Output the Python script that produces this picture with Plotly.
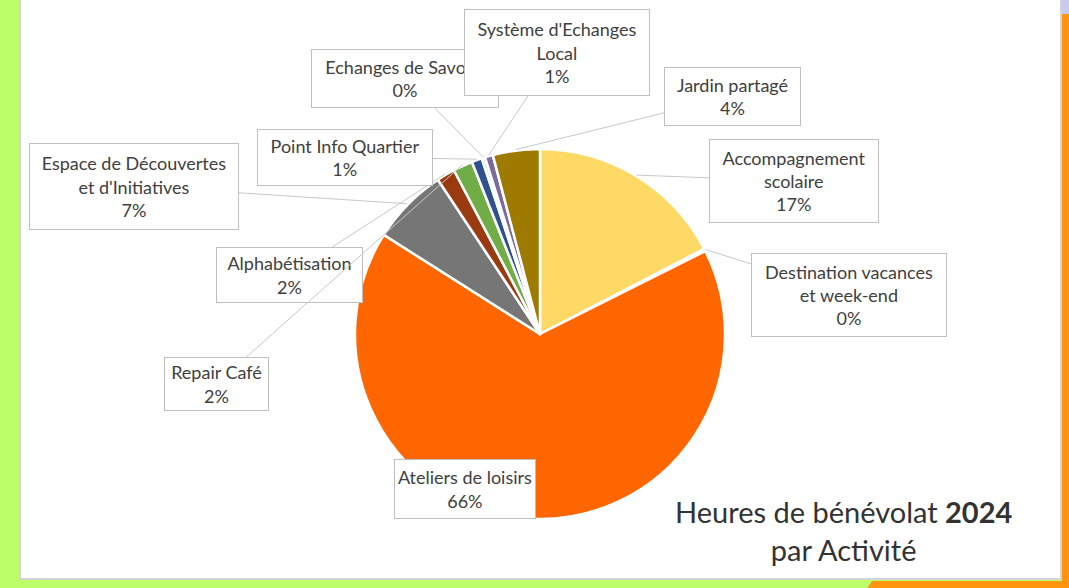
import plotly.graph_objects as go
import math

# ---- data ----
labels = [
    "Accompagnement<br>scolaire",
    "Destination vacances<br>et week-end",
    "Ateliers de loisirs",
    "Espace de Découvertes<br>et d'Initiatives",
    "Alphabétisation",
    "Repair Café",
    "Point Info Quartier",
    "Echanges de Savoirs",
    "Système d'Echanges<br>Local",
    "Jardin partagé",
]
values = [17.4, 0.2, 66.4, 6.7, 1.6, 1.7, 0.9, 0.3, 0.7, 4.1]
colors = ["#FFD966", "#A5A5A5", "#FF6600", "#767676", "#9A3A10",
          "#70AD47", "#31508F", "#DCE4F0", "#7A6C9C", "#9E7A00"]

# ---- layout constants (pixels) ----
W, H = 1069, 588
cx, cy, r = 540, 334, 185

# label box positions (centre x, centre y, width, height)
boxes = [
    (794, 181, 168, 82),
    (849, 295, 194, 82),
    (465, 489, 140, 58),
    (134, 186, 208, 85),
    (289, 275, 145, 54),
    (216, 384, 103, 52),
    (345, 157, 174, 55),
    (405, 78, 186, 57),
    (557, 52, 184, 85),
    (732, 96, 135, 57),
]

total = sum(values)
pcts = [round(v / total * 100) for v in values]

fig = go.Figure()
fig.add_trace(go.Pie(
    labels=[l.replace("<br>", " ") for l in labels],
    values=values,
    sort=False,
    direction="clockwise",
    rotation=0,
    marker=dict(colors=colors, line=dict(color="white", width=2.5)),
    textinfo="none",
    hoverinfo="label+percent",
    showlegend=False,
    domain=dict(x=[(cx - r) / W, (cx + r) / W], y=[1 - (cy + r) / H, 1 - (cy - r) / H]),
))

annotations = []
cum = 0.0
for i, (lab, v) in enumerate(zip(labels, values)):
    mid = (cum + v / 2) / total * 2 * math.pi
    cum += v
    tx = cx + (r + 1) * math.sin(mid)
    ty = cy - (r + 1) * math.cos(mid)
    bx, by, bw, bh = boxes[i]
    text = f"{lab}<br>{pcts[i]}%"
    common = dict(
        text=text, xref="x", yref="y",
        font=dict(family="Lato", size=18, color="#404040"),
        bgcolor="white", bordercolor="#BFBFBF", borderwidth=1,
        width=bw - 2, height=bh - 2, align="center", valign="middle",
    )
    if i == 2:
        annotations.append(dict(x=bx, y=by, showarrow=False, **common))
    else:
        annotations.append(dict(
            x=tx, y=ty, ax=bx, ay=by, axref="x", ayref="y",
            showarrow=True, arrowhead=0, arrowwidth=1, arrowcolor="#C8C8C8",
            **common))

annotations.append(dict(
    x=843, y=530, xref="x", yref="y", showarrow=False,
    text="Heures de bénévolat <b>2024</b><br>par Activité",
    font=dict(family="Lato", size=29, color="#333333"), align="center",
))

shapes = [
    # white panel
    dict(type="rect", x0=20, x1=1061, y0=-2, y1=579, xref="x", yref="y",
         fillcolor="white", line=dict(color="#D4D4D4", width=2), layer="below"),
    # right strip
    dict(type="rect", x0=1062, x1=1070, y0=14, y1=590, xref="x", yref="y",
         fillcolor="#FF950E", line=dict(width=0), layer="below"),
    dict(type="rect", x0=1062, x1=1070, y0=-2, y1=14, xref="x", yref="y",
         fillcolor="#C9C8EE", line=dict(width=0), layer="below"),
    # bottom strip orange part
    dict(type="path", path="M 872 581 L 1070 581 L 1070 590 L 866 590 Z",
         xref="x", yref="y", fillcolor="#FF950E", line=dict(width=0), layer="below"),
]

fig.update_layout(
    width=W, height=H,
    margin=dict(l=0, r=0, t=0, b=0),
    paper_bgcolor="#BCFF6A",
    plot_bgcolor="rgba(0,0,0,0)",
    xaxis=dict(range=[0, W], visible=False, domain=[0, 1], fixedrange=True),
    yaxis=dict(range=[H, 0], visible=False, domain=[0, 1], fixedrange=True),
    shapes=shapes,
    annotations=annotations,
    showlegend=False,
)

fig.write_html("out.html", config={"displayModeBar": False},
               post_script="document.body.style.margin='0';document.body.style.overflow='hidden';")
